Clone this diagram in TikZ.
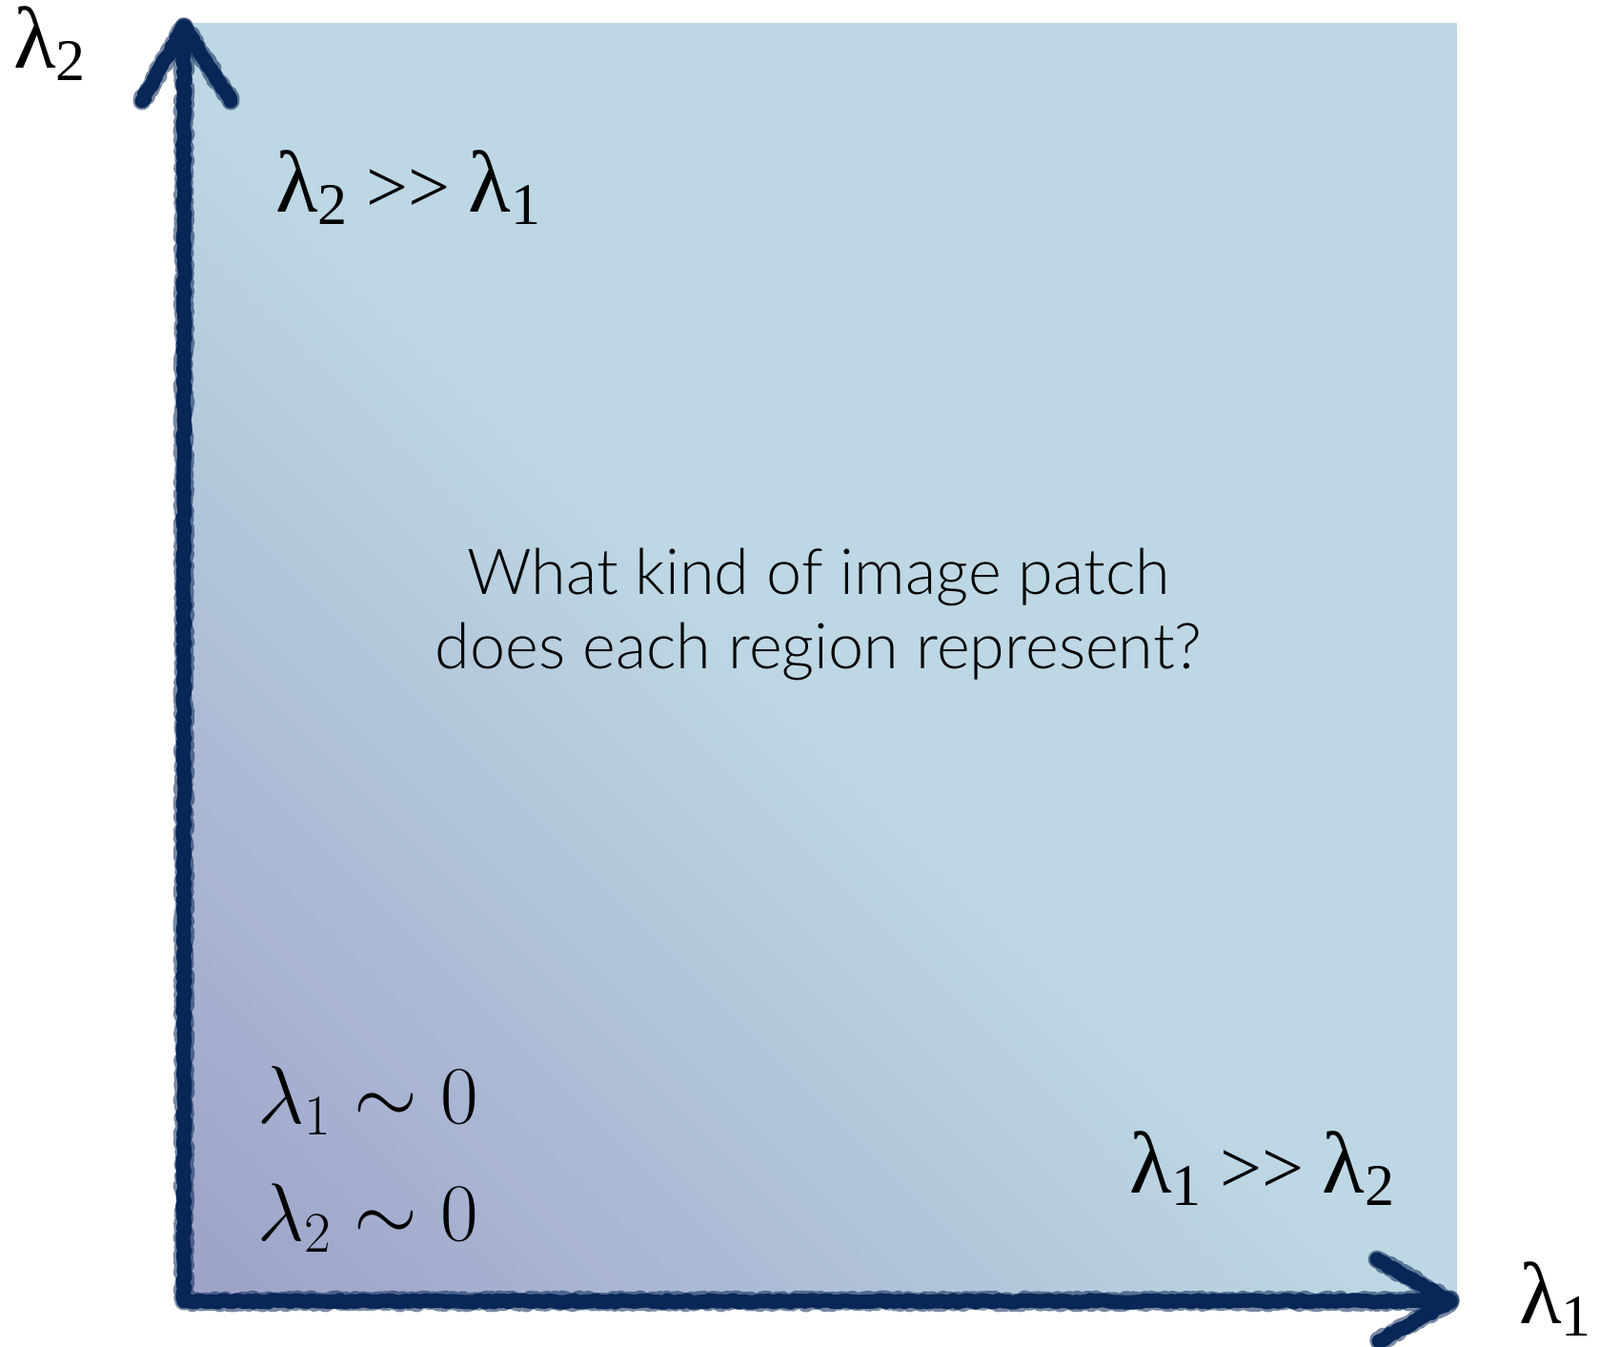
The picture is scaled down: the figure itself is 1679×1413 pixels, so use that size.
\documentclass[tikz,border=0pt]{standalone}
\usepackage{fix-cm}
\usepackage{fontspec}
\usetikzlibrary{decorations.pathmorphing}
\newfontfamily\tnr{Liberation Serif}
\IfFontExistsTF{Lato Light}{\newfontfamily\hel{Lato Light}\def\qsize{\fontsize{66.5}{78}\selectfont}}{\newfontfamily\hel{Liberation Sans}\def\qsize{\fontsize{65}{78}\selectfont}}
\definecolor{navy}{RGB}{8,38,86}
\definecolor{gA}{RGB}{157,162,200}
\definecolor{gB}{RGB}{189,216,228}
\newcommand{\lamT}[1]{{\fontsize{92}{92}\selectfont λ}\raisebox{-13pt}{\fontsize{62}{62}\selectfont #1}}
\tikzset{
  chalk/.style={draw=navy, line width=15pt, line cap=round, line join=round,
    decorate, decoration={random steps, segment length=4pt, amplitude=1.3pt}},
  chalkfuzz/.style={draw=navy, opacity=0.55, line width=19pt, line cap=round, line join=round,
    decorate, decoration={random steps, segment length=3pt, amplitude=2pt}},
  serlab/.style={font=\tnr, inner sep=0pt, anchor=base west, text=black},
  mathlab/.style={font=\fontsize{86}{86}\selectfont, inner sep=0pt, anchor=base west, text=black},
  question/.style={font=\hel\qsize, inner sep=0pt, anchor=base, text=black}
}
\begin{document}
\begin{tikzpicture}[x=1pt,y=-1pt]
\useasboundingbox (0,0) rectangle (1679,1413);
% gradient background
\begin{scope}
  \clip (193,24) rectangle (1529,1363);
  \fill[gB] (193,24) rectangle (1529,1363);
  \foreach \i in {0,...,64}{
    \pgfmathsetmacro\a{\i*20}
    \pgfmathsetmacro\b{\a+21}
    \pgfmathsetmacro\p{\i/64*100}
    \fill[gB!\p!gA] (100,1270-\a) -- (1700,2870-\a) -- (1700,2870-\b) -- (100,1270-\b) -- cycle;
  }
\end{scope}
% labels
\node[serlab] (ylab) at (14,72) {\lamT{2}};
\node[serlab] (xlab) at (1594,1388) {\lamT{1}};
\node[serlab] (tl) at (289,222) {\lamT{2}\fontsize{78}{78}\selectfont\ >\kern0pt>\ \lamT{1}};
\node[serlab] (br) at (1185,1251) {\lamT{1}\fontsize{78}{78}\selectfont\ >\kern0pt>\ \lamT{2}};
\node[mathlab] (bl1) at (270,1178) {$\lambda_1\sim 0$};
\node[mathlab] (bl2) at (270,1301) {$\lambda_2\sim 0$};
\node[question] (q1) at (859,623) {What kind of image patch};
\node[question] (q2) at (859,701) {does each region represent?};
% axes
\coordinate (O) at (193,1365);
\coordinate (Ytip) at (193,28);
\coordinate (Xtip) at (1522,1365);
\coordinate (Yw1) at (149,106);
\coordinate (Yw2) at (242,106);
\coordinate (Xw1) at (1445,1321);
\coordinate (Xw2) at (1447,1407);
\draw[chalkfuzz] (Ytip) -- (O) -- (Xtip);
\draw[chalkfuzz] (Yw1) -- (Ytip) -- (Yw2);
\draw[chalkfuzz] (Xw1) -- (Xtip) -- (Xw2);
\draw[chalk] (Ytip) -- (O) -- (Xtip);
\draw[chalk] (Yw1) -- (Ytip) -- (Yw2);
\draw[chalk] (Xw1) -- (Xtip) -- (Xw2);
\end{tikzpicture}
\end{document}
